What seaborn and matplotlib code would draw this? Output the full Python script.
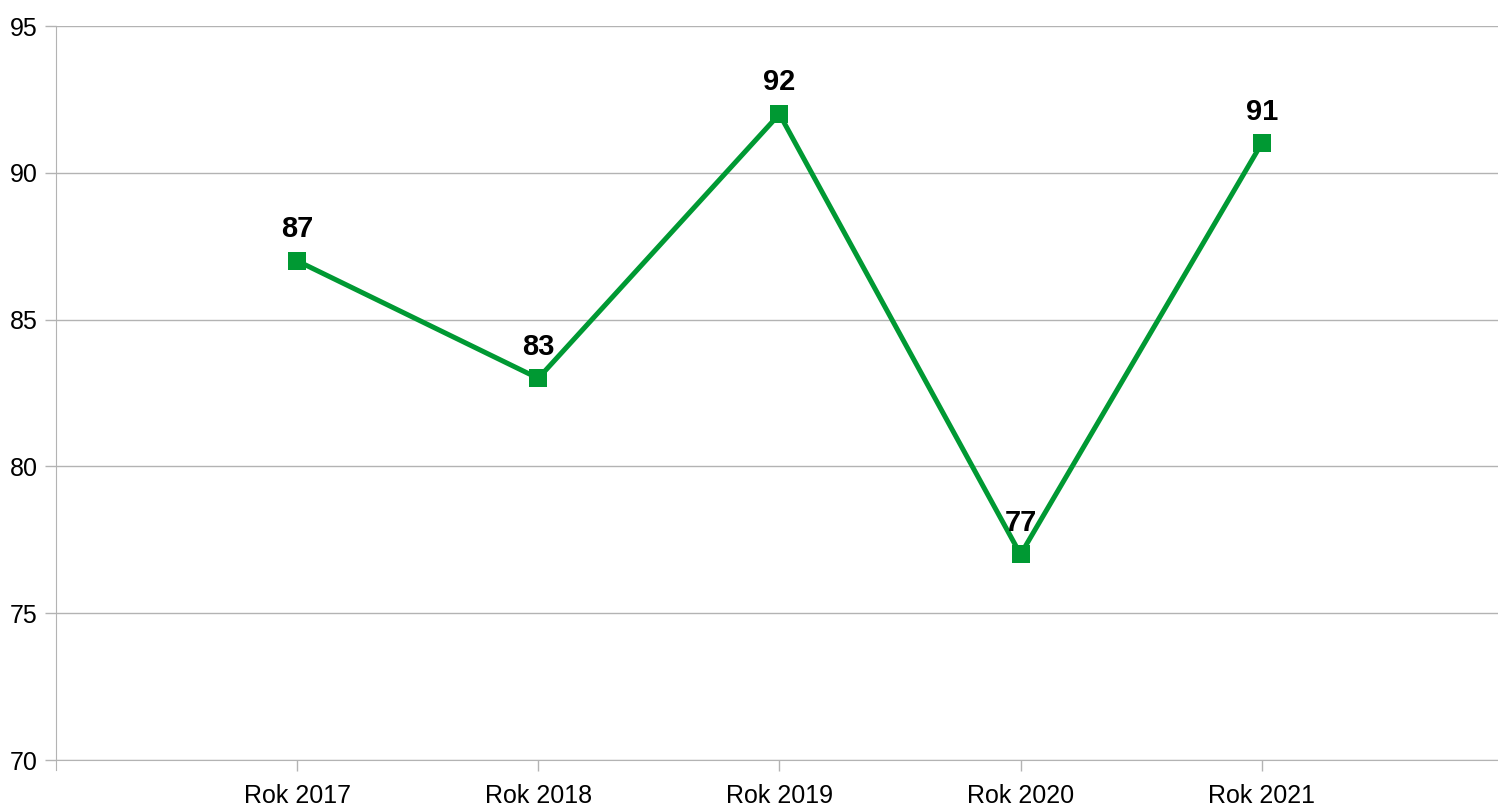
import pandas as pd
import seaborn as sns
import matplotlib.pyplot as plt

years = ["Rok 2017", "Rok 2018", "Rok 2019", "Rok 2020", "Rok 2021"]
values = [87, 83, 92, 77, 91]
y_ticks = [70, 75, 80, 85, 90, 95]

GREEN = "#009933"
GRID = "#b3b3b3"

sns.set_style("white", {"xtick.bottom": True, "ytick.left": True,
                        "text.color": "black", "xtick.color": "black",
                        "ytick.color": "black"})
plt.rcParams["font.family"] = ["Liberation Sans", "DejaVu Sans"]

df = pd.DataFrame({"rok": years, "wartosc": values})

fig = plt.figure(figsize=(14.98, 8.07), dpi=100)
ax = fig.add_axes([56 / 1498, 1 - 760 / 807, 1 - 56 / 1498, (760 - 26) / 807])

sns.lineplot(data=df, x="rok", y="wartosc", ax=ax, color=GREEN, linewidth=3.6,
             marker="s", markersize=13.5, markeredgewidth=0, sort=False)

for i, v in enumerate(values):
    ax.annotate(str(v), (i, v), xytext=(0, 17), textcoords="offset points",
                ha="center", va="baseline", fontsize=21, fontweight="bold",
                color="black")

ax.set_xlim(-1, 4.98)
ax.set_ylim(70, 95)
ax.set_yticks(y_ticks)
ax.yaxis.grid(True, color=GRID, linewidth=1)
ax.set_axisbelow(True)
ax.set_xlabel("")
ax.set_ylabel("")

for s in ["top", "right"]:
    ax.spines[s].set_visible(False)
ax.spines["left"].set_color(GRID)
ax.spines["bottom"].set_color(GRID)
ax.spines["left"].set_bounds(69.65, 95)

ax.tick_params(axis="y", length=8, color=GRID, labelcolor="black", width=1,
               pad=5, labelsize=18)
ax.tick_params(axis="x", length=8, color=GRID, labelcolor="black", width=1,
               pad=9, labelsize=18)

fig.savefig("out.png", dpi=100)
